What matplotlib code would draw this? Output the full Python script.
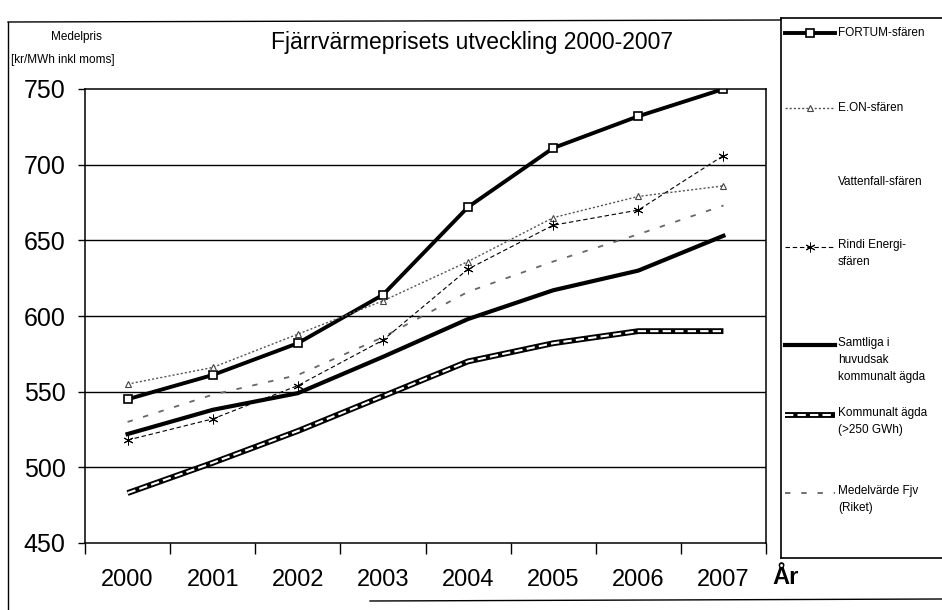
import matplotlib
matplotlib.use("Agg")
import matplotlib.pyplot as plt
from matplotlib.lines import Line2D

plt.rcParams['font.family'] = ['Liberation Sans', 'DejaVu Sans']

# Medelpris kr/MWh inkl moms, 2000-2007
years = ['2000', '2001', '2002', '2003', '2004', '2005', '2006', '2007']
fortum = [545, 561, 582, 614, 672, 711, 732, 750]
eon = [555, 566, 588, 610, 636, 665, 679, 686]
rindi = [518, 532, 554, 584, 631, 660, 670, 706]
samtliga = [522, 538, 549, 573, 598, 617, 630, 653]
kommunalt = [483, 503, 524, 547, 570, 582, 590, 590]
medel = [530, 548, 561, 586, 616, 636, 654, 673]

labels = ['FORTUM-sfären', 'E.ON-sfären', 'Vattenfall-sfären', 'Rindi Energi-\nsfären',
          'Samtliga i\nhuvudsak\nkommunalt ägda', 'Kommunalt ägda\n(>250 GWh)',
          'Medelvärde Fjv\n(Riket)']

W, H = 942, 610
fig = plt.figure(figsize=(W / 100, H / 100), dpi=100)

def fx(px):
    return px / W

def fy(py):
    return 1 - py / H

ax = fig.add_axes([fx(85), fy(543), fx(766) - fx(85), fy(89) - fy(543)])
x = list(range(len(years)))

ax.plot(x, fortum, color='black', lw=2.8, marker='s', ms=6, mfc='white', mec='black', mew=1.2)
ax.plot(x, eon, color='#555555', lw=1.0, ls=(0, (1.5, 1.5)), marker='^', ms=5, mfc='white', mec='#444444', mew=0.8)
ax.plot(x, medel, color='#666666', lw=1.3, ls=(0, (3, 6)))
ax.plot(x, rindi, color='black', lw=0.8, ls=(0, (4, 2.5)), marker=(6, 2, 0), ms=7, mew=0.7)
ax.plot(x, samtliga, color='black', lw=3.0)
ax.plot(x, kommunalt, color='black', lw=4.2, solid_capstyle='butt')
ax.plot(x, kommunalt, color='white', lw=1.5, ls=(0, (4, 2)))

ax.set_xlim(-0.5, 7.5)
ax.set_ylim(450, 750)
ax.set_yticks([450, 500, 550, 600, 650, 700, 750])
ax.set_xticks(x)
ax.set_xticklabels(years)
ax.set_xticks([i + 0.5 for i in range(-1, 8)], minor=True)
ax.tick_params(axis='x', which='major', length=0, pad=19, labelsize=17)
ax.tick_params(axis='x', which='minor', length=8, width=1, direction='out')
ax.tick_params(axis='y', length=5, width=1, direction='out', pad=9, labelsize=18)
for v in [500, 550, 600, 650, 700]:
    ax.axhline(v, color='black', lw=1.0, zorder=0)
for s in ax.spines.values():
    s.set_linewidth(1.1)

fig.text(fx(472), fy(42), 'Fjärrvärmeprisets utveckling 2000-2007', fontsize=16.5,
         ha='center', va='center')
fig.text(fx(76), fy(37), 'Medelpris', fontsize=8.5, ha='center', va='center')
fig.text(fx(63), fy(60), '[kr/MWh inkl moms]', fontsize=8.5, ha='center', va='center')
fig.text(fx(786), fy(577), 'År', fontsize=17, fontweight='bold', ha='center', va='center')

# frame lines of the page
fig.add_artist(Line2D([fx(8), fx(8)], [fy(22), fy(610)], color='black', lw=1.0))
fig.add_artist(Line2D([fx(8), fx(781)], [fy(22), fy(20)], color='black', lw=1.0))
fig.add_artist(Line2D([fx(370), fx(942)], [fy(601), fy(599)], color='black', lw=1.0))

# legend box
lg = fig.add_axes([fx(781), fy(558), 1 - fx(781) + 0.02, fy(18) - fy(558)])
lg.set_xlim(781, 781 + (1 - fx(781) + 0.02) * W)
lg.set_ylim(558, 18)
lg.set_xticks([])
lg.set_yticks([])
for s in lg.spines.values():
    s.set_linewidth(1.2)

rows = [33, 108, 182, 247, 345, 415, 493]
hx = [785, 835]
mid = sum(hx) / 2
lg.plot(hx, [rows[0]] * 2, color='black', lw=2.8)
lg.plot([mid], [rows[0]], marker='s', ms=6, mfc='white', mec='black', mew=1.2)
lg.plot(hx, [rows[1]] * 2, color='#555555', lw=1.0, ls=(0, (1.5, 1.5)))
lg.plot([mid], [rows[1]], marker='^', ms=5, mfc='white', mec='#444444', mew=0.8)
lg.plot(hx, [rows[3]] * 2, color='black', lw=0.8, ls=(0, (4, 2.5)))
lg.plot([mid], [rows[3]], color='black', marker=(6, 2, 0), ms=7, mew=0.7)
lg.plot(hx, [rows[4]] * 2, color='black', lw=3.0)
lg.plot(hx, [rows[5]] * 2, color='black', lw=4.2, solid_capstyle='butt')
lg.plot(hx, [rows[5]] * 2, color='white', lw=1.5, ls=(0, (4, 2)))
lg.plot(hx, [rows[6]] * 2, color='#666666', lw=1.3, ls=(0, (3, 6)))
for r, t in zip(rows, labels):
    lg.text(838, r, t, fontsize=8.5, ha='left', va='top' if '\n' in t else 'center',
            linespacing=1.55)
# multi-line labels start with their first line on the handle
for t in lg.texts:
    if '\n' in t.get_text():
        t.set_y(t.get_position()[1] - 8)

fig.savefig('out.png', dpi=100)
